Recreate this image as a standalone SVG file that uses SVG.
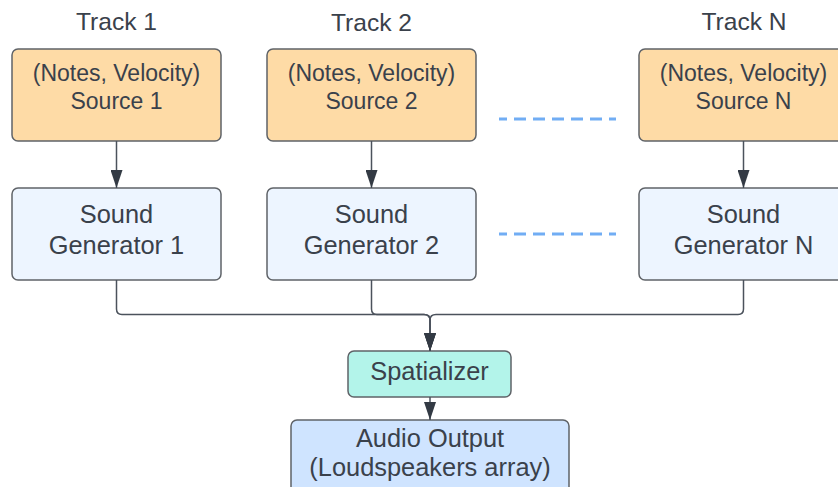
<svg xmlns="http://www.w3.org/2000/svg" width="838" height="487" viewBox="0 0 838 487">
<style>
text{font-family:"Liberation Sans",Arial,sans-serif;fill:#3a414b;text-anchor:middle}
.t{font-size:24.6px}
.s{font-size:23px}
.g{font-size:25.4px}
.box{stroke:#5f6368;stroke-width:1.5}
.src{fill:#fedba6}
.gen{fill:#edf5ff}
.spa{fill:#b3f4ea}
.out{fill:#cfe4ff}
.c{fill:none;stroke:#4b525c;stroke-width:1.5}
.d{fill:none;stroke:#71adf4;stroke-width:3;stroke-dasharray:12 7}
</style>
<defs>
<marker id="ah" markerUnits="userSpaceOnUse" markerWidth="18" markerHeight="12" viewBox="0 0 18 12" refX="18" refY="6" orient="auto">
<path d="M0 0 L18 6 L0 12 z" fill="#333a44"/>
</marker>
</defs>
<g id="labels">
<text class="t" x="116.5" y="30">Track 1</text>
<text class="t" x="371.5" y="31">Track 2</text>
<text class="t" x="744" y="30">Track N</text>
</g>
<g id="source1"><rect class="box src" x="12" y="49" width="209" height="92" rx="6"/><text class="s" x="116.5" y="81">(Notes, Velocity)</text><text class="s" x="116.5" y="109">Source 1</text></g>
<g id="source2"><rect class="box src" x="267" y="49" width="209" height="92" rx="6"/><text class="s" x="371.5" y="81">(Notes, Velocity)</text><text class="s" x="371.5" y="109">Source 2</text></g>
<g id="sourceN"><rect class="box src" x="639" y="49" width="209" height="92" rx="6"/><text class="s" x="743.5" y="81">(Notes, Velocity)</text><text class="s" x="743.5" y="109">Source N</text></g>
<g id="gen1"><rect class="box gen" x="12" y="188" width="209" height="92" rx="6"/><text class="g" x="116.5" y="223">Sound</text><text class="g" x="116.5" y="254">Generator 1</text></g>
<g id="gen2"><rect class="box gen" x="267" y="188" width="209" height="92" rx="6"/><text class="g" x="371.5" y="223">Sound</text><text class="g" x="371.5" y="254">Generator 2</text></g>
<g id="genN"><rect class="box gen" x="639" y="188" width="209" height="92" rx="6"/><text class="g" x="743.5" y="223">Sound</text><text class="g" x="743.5" y="254">Generator N</text></g>
<g id="spatializer"><rect class="box spa" x="348" y="351" width="163" height="46" rx="6"/><text class="g" x="429.5" y="380">Spatializer</text></g>
<g id="output"><rect class="box out" x="291" y="420" width="278" height="80" rx="6"/><text class="g" x="430" y="447">Audio Output</text><text class="g" x="430" y="476">(Loudspeakers array)</text></g>
<g id="connectors">
<path class="c" d="M116.5 141 V188" marker-end="url(#ah)"/>
<path class="c" d="M371.5 141 V188" marker-end="url(#ah)"/>
<path class="c" d="M743.5 141 V188" marker-end="url(#ah)"/>
<path class="c" d="M116.5 280 V309 Q116.5 314.5 122 314.5 H424 Q430 314.5 430 320 V351" marker-end="url(#ah)"/>
<path class="c" d="M371.5 280 V309 Q371.5 314.5 377 314.5 H424 Q430 314.5 430 320 V351" marker-end="url(#ah)"/>
<path class="c" d="M743.5 280 V309 Q743.5 314.5 738 314.5 H436 Q430 314.5 430 320 V351" marker-end="url(#ah)"/>
<path class="c" d="M430 397 V420" marker-end="url(#ah)"/>
<path class="d" d="M499 119 H616" stroke-dashoffset="4"/>
<path class="d" d="M499 234 H616" stroke-dashoffset="4"/>
</g>
</svg>
